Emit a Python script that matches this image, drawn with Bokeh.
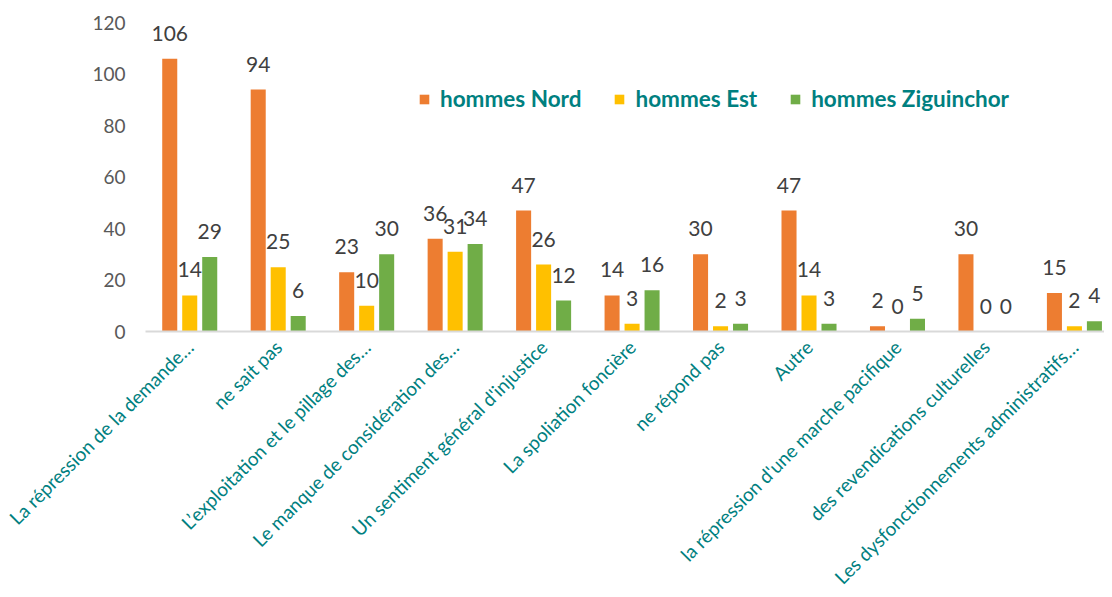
from bokeh.plotting import figure
from bokeh.models import ColumnDataSource, LabelSet, Legend, LegendItem, Range1d, FixedTicker
from bokeh.core.properties import value
from bokeh.embed import file_html
from bokeh.resources import INLINE
import math

categories = [
    "La répression de la demande…",
    "ne sait pas",
    "L’exploitation et le pillage des…",
    "Le manque de considération des…",
    "Un sentiment général d'injustice",
    "La spoliation foncière",
    "ne répond pas",
    "Autre",
    "la répression d'une marche pacifique",
    "des revendications culturelles",
    "Les dysfonctionnements administratifs…",
]
nord = [106, 94, 23, 36, 47, 14, 30, 47, 2, 30, 15]
est = [14, 25, 10, 31, 26, 3, 2, 14, 0, 0, 2]
zig = [29, 6, 30, 34, 12, 16, 3, 3, 5, 0, 4]
series_names = ["hommes Nord", "hommes Est", "hommes Ziguinchor"]
colors = ["#ED7D31", "#FFC000", "#70AD47"]
y_ticks = [0, 20, 40, 60, 80, 100, 120]

FONT = "Lato"
idx = list(range(len(categories)))
offsets = [-0.226, 0.0, 0.226]
series = [nord, est, zig]

p = figure(
    x_range=Range1d(-0.5, 10.34),
    y_range=Range1d(0, 126.3),
    width=1104, height=604,
    output_backend="svg", toolbar_location=None,
    min_border_left=145, min_border_right=0, min_border_top=6, min_border_bottom=273,
)

renderers = []
for off, vals, col in zip(offsets, series, colors):
    src = ColumnDataSource(dict(x=[i + off for i in idx], y=vals, t=[str(v) for v in vals]))
    r = p.vbar(x="x", top="y", width=0.17, source=src, color=col, line_color=None)
    renderers.append(r)
    lbl = LabelSet(x="x", y="y", text="t", source=src,
                   text_align="center", text_baseline="alphabetic",
                   y_offset=18, text_font=value(FONT), text_font_size="21px",
                   text_color="#404040")
    p.add_layout(lbl)

legend = Legend(
    items=[LegendItem(label=n, renderers=[r]) for n, r in zip(series_names, renderers)],
    orientation="horizontal", location=(273, 219),
    glyph_width=12, glyph_height=12, label_standoff=10, spacing=32,
    padding=0, margin=0, border_line_color=None, background_fill_alpha=0,
    label_text_font=FONT, label_text_font_style="bold", label_text_font_size="22.5px",
    label_text_color="#008080",
)
p.add_layout(legend)

p.xgrid.visible = False
p.ygrid.visible = False
p.outline_line_color = None

p.yaxis.ticker = FixedTicker(ticks=y_ticks)
p.yaxis.axis_line_color = None
p.yaxis.major_tick_line_color = None
p.yaxis.minor_tick_line_color = None
p.yaxis.major_label_text_font = FONT
p.yaxis.major_label_text_font_size = "19px"
p.yaxis.major_label_text_color = "#595959"
p.yaxis.major_label_standoff = 14

p.xaxis.ticker = FixedTicker(ticks=idx)
p.xaxis.major_label_overrides = {i: c for i, c in zip(idx, categories)}
p.xaxis.axis_line_color = "#D9D9D9"
p.xaxis.axis_line_width = 2
p.xaxis.major_tick_line_color = None
p.xaxis.minor_tick_line_color = None
p.xaxis.major_label_orientation = math.pi / 4
p.xaxis.major_label_text_font = FONT
p.xaxis.major_label_text_font_size = "19px"
p.xaxis.major_label_text_color = "#008080"
p.xaxis.major_label_standoff = 6

open("out.html", "w").write(file_html(p, INLINE))
